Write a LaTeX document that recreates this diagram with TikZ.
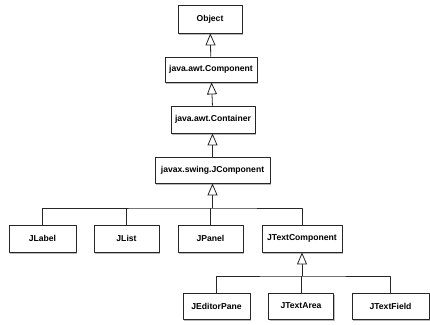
\documentclass[tikz,border=0pt]{standalone}
\usepackage{fontspec}
\setmainfont{Liberation Sans}
\usetikzlibrary{arrows.meta,shadows}
\tikzset{
  cls/.style={draw=black!85, line width=0.8pt, fill=white, minimum height=26pt, inner sep=1pt,
    font=\fontsize{8.6}{10}\selectfont\bfseries,
    drop shadow={shadow xshift=1.2pt, shadow yshift=-1.6pt, fill=black!45, opacity=0.6}},
  link/.style={draw=black!85, line width=0.8pt},
  inh/.style={link, -{Triangle[open, length=12pt, width=10pt, fill=white]}}
}
\begin{document}
\begin{tikzpicture}[x=1pt, y=-1pt, line join=round]
		\useasboundingbox (0,0) rectangle (430,324);
		% hierarchy top
		\node[cls, minimum width=64pt, minimum height=28pt] (obj) at (210,19) {Object};
		\node[cls, minimum width=92pt, minimum height=25pt] (comp) at (211,69.5) {java.awt.Component};
		\node[cls, minimum width=84pt, minimum height=27pt] (cont) at (213,119.5) {java.awt.Container};
		\node[cls, minimum width=115pt] (jcomp) at (212.5,170) {javax.swing.JComponent};
		% swing components
		\node[cls, minimum width=67pt, minimum height=27pt] (jlabel) at (42.5,238.5) {JLabel};
		\node[cls, minimum width=65pt, minimum height=27pt] (jlist) at (126.5,238.5) {JList};
		\node[cls, minimum width=65pt, minimum height=27pt] (jpanel) at (210.5,238.5) {JPanel};
		\node[cls, minimum width=80pt, minimum height=27pt] (jtext) at (302,238.5) {JTextComponent};
		% text components
		\node[cls, minimum width=67pt] (jeditor) at (216.5,306) {JEditorPane};
		\node[cls, minimum width=65pt] (jarea) at (301,306) {JTextArea};
		\node[cls, minimum width=77pt] (jfield) at (390.5,306) {JTextField};
		\coordinate (busA) at (212.5,208);
		\coordinate (busB) at (302,276);
		\draw[inh] (comp) -- (obj);
		\draw[inh] (cont) -- (comp);
		\draw[inh] (jcomp.north) -- (jcomp.north |- cont.south);
		\draw[inh] (busA) -- (jcomp);
		\draw[link] (jlabel) |- (busA) -| (jtext);
		\draw[link] (jlist) -- (jlist |- busA) (jpanel) -- (jpanel |- busA);
		\draw[inh] (busB) -- (jtext);
		\draw[link] (jeditor) |- (busB) -| (jfield) (jarea) -- (jarea |- busB);
	\end{tikzpicture}
\end{document}
